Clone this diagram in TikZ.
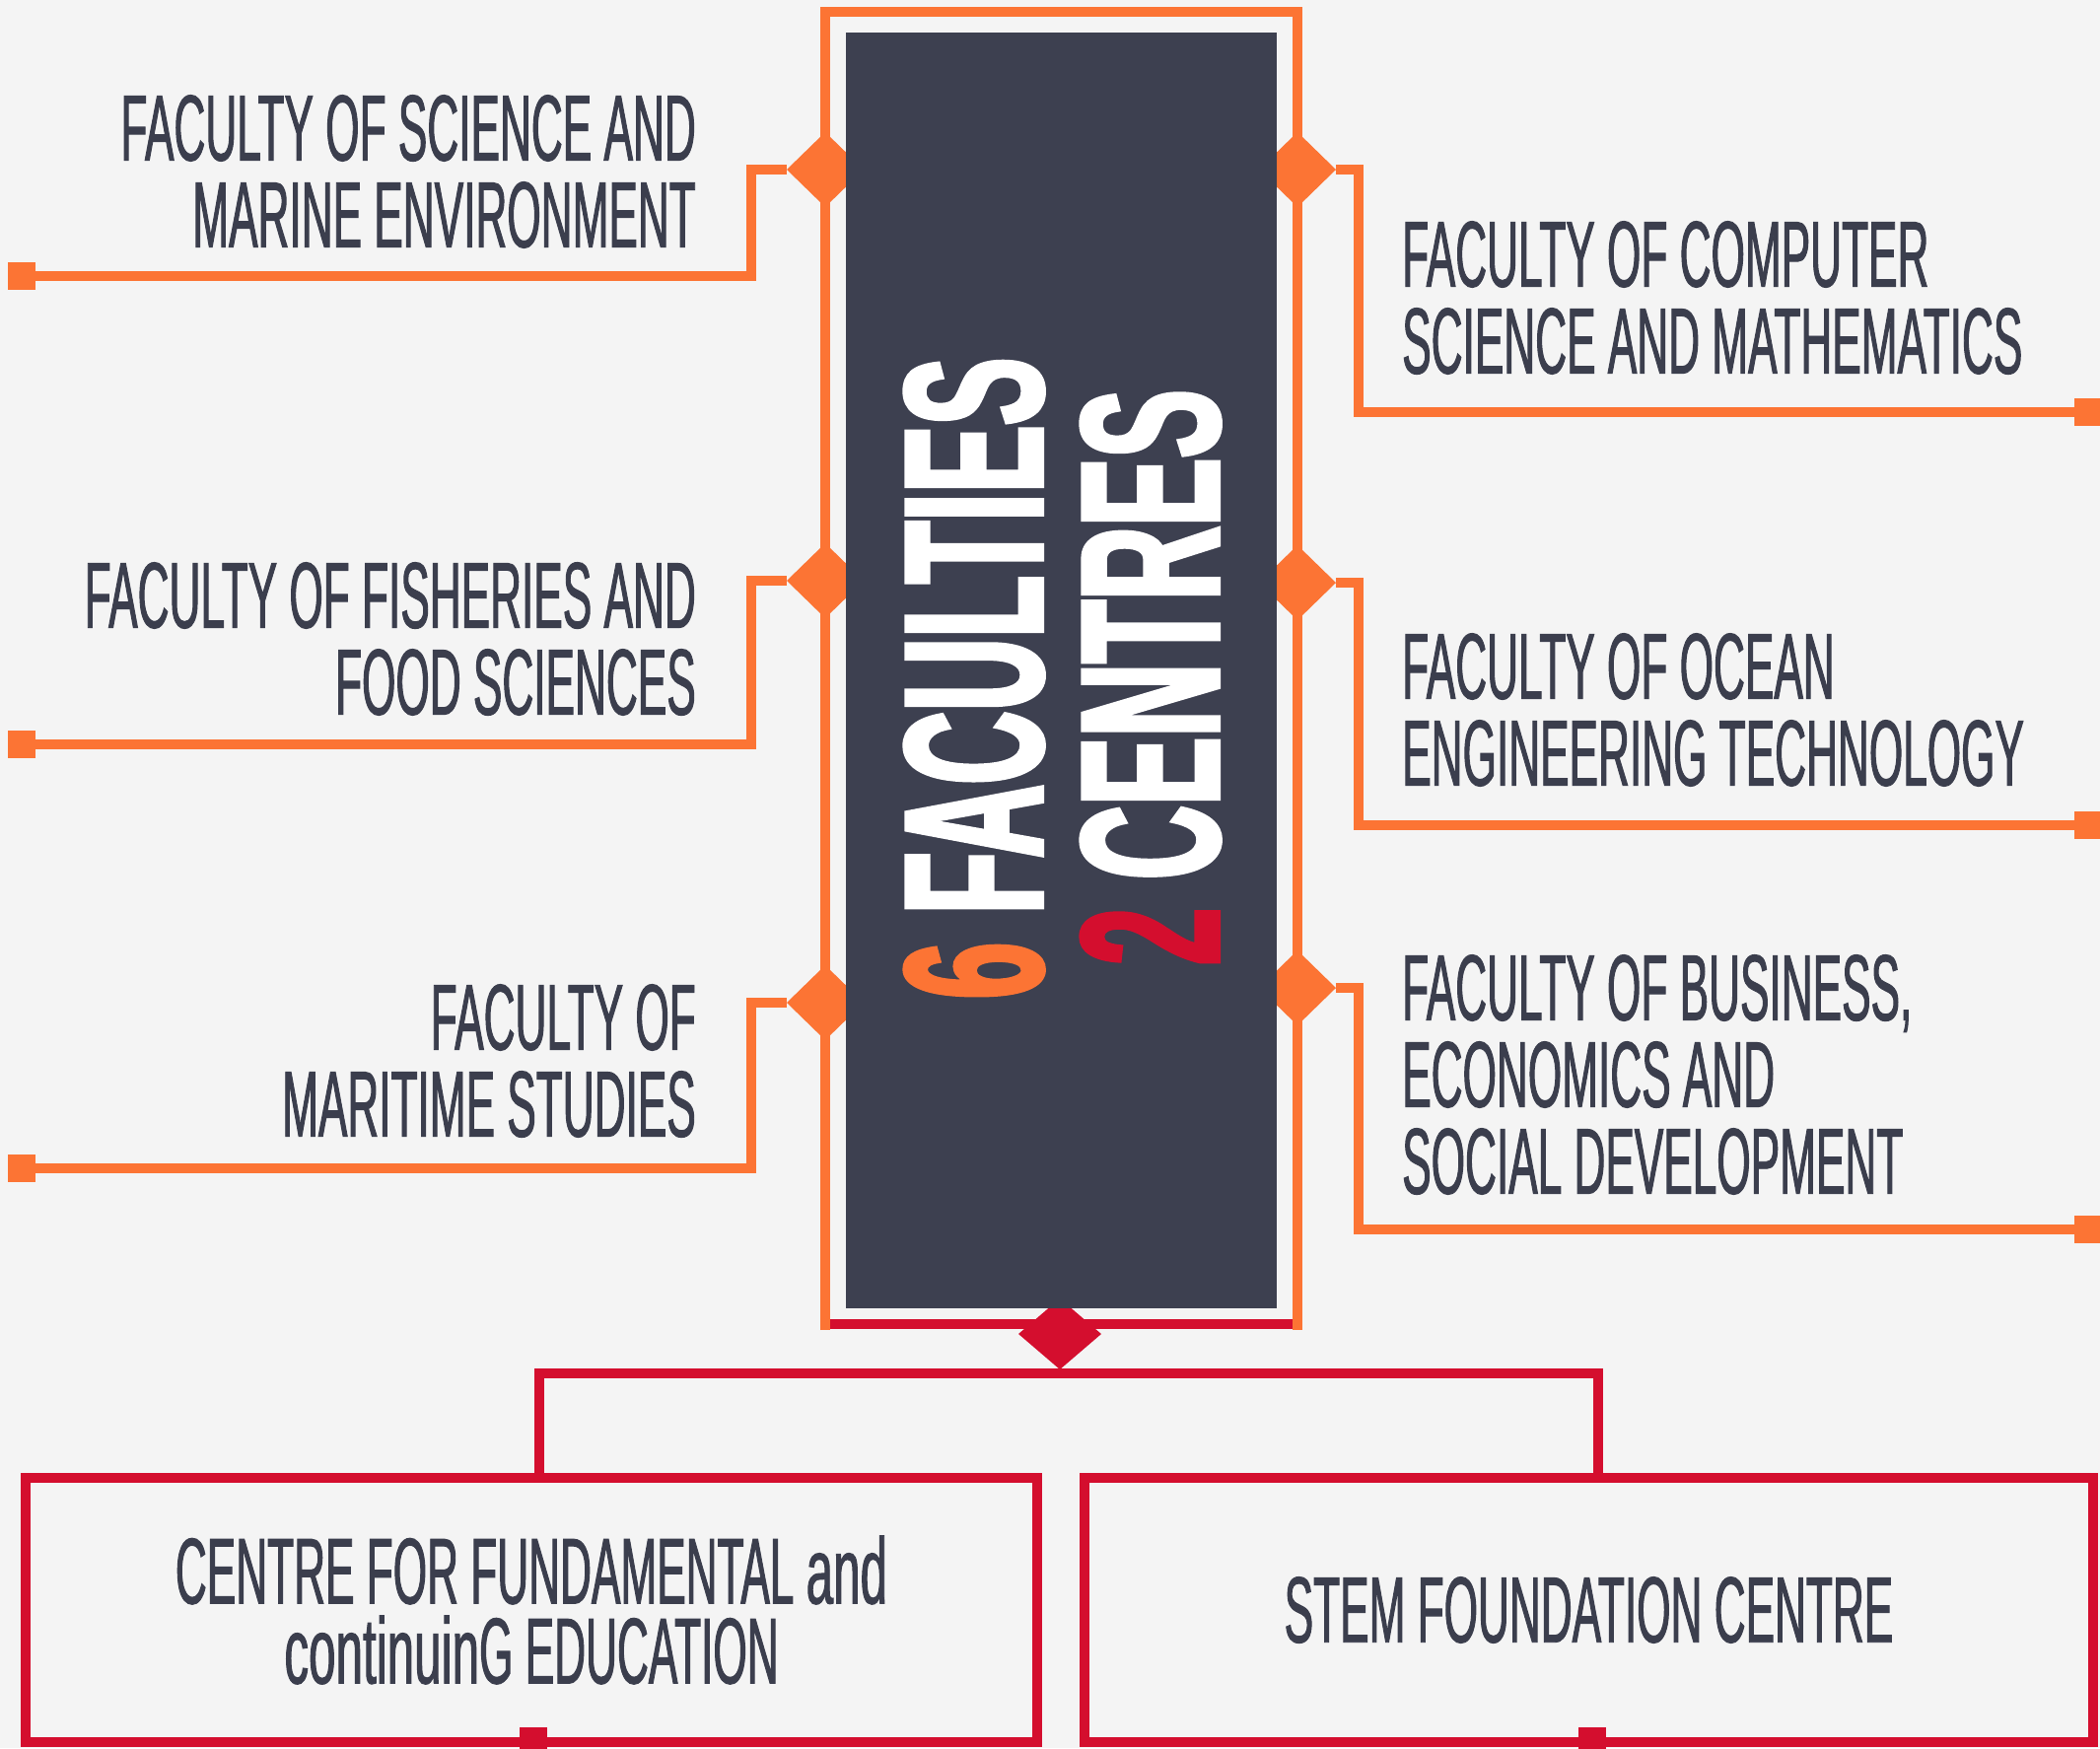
\documentclass[tikz,border=0pt]{standalone}
\usepackage{fontspec}
\usetikzlibrary{shapes.geometric}
\newfontfamily\labfont[FakeStretch=0.465,FakeBold=1]{Liberation Sans}
\newfontfamily\lcfont[FakeStretch=0.52,FakeBold=1]{Liberation Sans}
\newfontfamily\bigfontA[FakeStretch=0.515,FakeBold=2]{Liberation Sans}
\newfontfamily\bigfontB[FakeStretch=0.52,FakeBold=2]{Liberation Sans}
\definecolor{orng}{HTML}{FC7434}
\definecolor{crim}{HTML}{D40E2E}
\definecolor{slate}{HTML}{3D4050}
\definecolor{ink}{HTML}{3B3E4D}
\definecolor{paper}{HTML}{F4F4F4}
\begin{document}
\begin{tikzpicture}[x=1pt,y=-1pt,
  oline/.style={draw=orng,line width=10pt},
  rline/.style={draw=crim,line width=10pt},
  odia/.style={diamond,fill=orng,inner sep=0pt,outer sep=0pt,minimum width=78pt,minimum height=76pt},
  rdia/.style={diamond,fill=crim,inner sep=0pt,outer sep=0pt,minimum width=84pt,minimum height=72pt},
  oend/.style={rectangle,fill=orng,inner sep=0pt,outer sep=0pt,minimum size=28pt},
  rend/.style={rectangle,fill=crim,inner sep=0pt,outer sep=0pt,minimum size=28pt},
  flab/.style={font=\labfont\fontsize{95}{88}\selectfont,text=ink,inner sep=0pt},
  rbox/.style={draw=crim,line width=10pt,text=ink,align=center,inner sep=0pt,
    font=\labfont\fontsize{95}{81}\selectfont},
  bigtxt/.style={rotate=90,anchor=base,inner sep=0pt,text=white}]
\useasboundingbox (0,0) rectangle (2130,1773);
\fill[paper] (0,0) rectangle (2130,1773);
% frame corners
\coordinate (fBL) at (837,1349);
\coordinate (fTL) at (837,12);
\coordinate (fTR) at (1316,12);
\coordinate (fBR) at (1316,1349);
\coordinate (rL) at (837,1343);
\coordinate (rR) at (1316,1343);
% red base of frame
\draw[rline] (rL) -- (rR);
% orange frame
\draw[oline] (fBL) -- (fTL) -- (fTR) -- (fBR);
% diamonds
\node[odia] (dL1) at (837,172) {};
\node[odia] (dL2) at (837,589) {};
\node[odia] (dL3) at (837,1017) {};
\node[odia] (dR1) at (1316,172) {};
\node[odia] (dR2) at (1316,591) {};
\node[odia] (dR3) at (1316,1002) {};
% end squares
\node[oend] (eL1) at (22,280) {};
\node[oend] (eL2) at (22,755) {};
\node[oend] (eL3) at (22,1185) {};
\node[oend] (eR1) at (2118,418) {};
\node[oend] (eR2) at (2118,837) {};
\node[oend] (eR3) at (2118,1247) {};
% orange connectors
\draw[oline] (dL1.west) -- ++(-36,0) |- (eL1);
\draw[oline] (dL2.west) -- ++(-36,0) |- (eL2);
\draw[oline] (dL3.west) -- ++(-36,0) |- (eL3);
\draw[oline] (dR1.east) -- ++(23,0) |- (eR1);
\draw[oline] (dR2.east) -- ++(23,0) |- (eR2);
\draw[oline] (dR3.east) -- ++(23,0) |- (eR3);
% red diamond
\node[rdia] (dC) at (1075,1353) {};
% hub
\node[fill=slate,inner sep=0pt,outer sep=0pt,minimum width=437.5pt,minimum height=1294pt] (hub) at (1076.25,680) {};
\node[bigtxt,font=\bigfontA\bfseries\fontsize{200}{200}\selectfont] (big1) at (1057,688) {\textcolor{orng}{6} FACULTIES};
\node[bigtxt,font=\bigfontB\bfseries\fontsize{200}{200}\selectfont] (big2) at (1236,687) {\textcolor{crim}{2} CENTRES};
% faculty labels
\node[flab,align=right,anchor=east] (tL1) at (706,174) {FACULTY OF SCIENCE AND\\MARINE ENVIRONMENT};
\node[flab,align=right,anchor=east] (tL2) at (706,648) {FACULTY OF FISHERIES AND\\FOOD SCIENCES};
\node[flab,align=right,anchor=east] (tL3) at (706,1076) {FACULTY OF\\MARITIME STUDIES};
\node[flab,align=left,anchor=west] (tR1) at (1422,302) {FACULTY OF COMPUTER\\SCIENCE AND MATHEMATICS};
\node[flab,align=left,anchor=west] (tR2) at (1422,720) {FACULTY OF OCEAN\\ENGINEERING TECHNOLOGY};
\node[flab,align=left,anchor=west] (tR3) at (1422,1090) {FACULTY OF BUSINESS,\\ECONOMICS AND\\SOCIAL DEVELOPMENT};
% centre boxes
\node[rbox,minimum width=1026pt,minimum height=268pt] (box1) at (539,1633) {CENTRE FOR FUNDAMENTAL {\lcfont and}\\{\lcfont continuin}G EDUCATION};
\node[rbox,minimum width=1023pt,minimum height=268pt] (box2) at (1611.5,1633) {STEM FOUNDATION CENTRE};
\node[rend] (s1) at (541,1766) {};
\node[rend] (s2) at (1615,1766) {};
% red connectors
\draw[rline] ([xshift=8pt]box1.north) |- ([yshift=-4pt]dC.south) -| ([xshift=9.5pt]box2.north);
\end{tikzpicture}
\end{document}
